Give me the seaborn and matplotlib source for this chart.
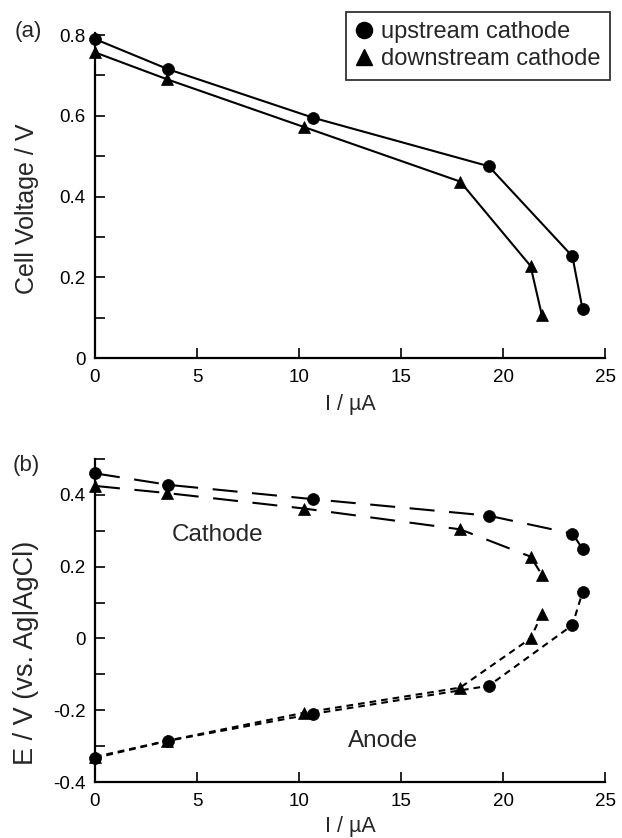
import matplotlib
matplotlib.use("Agg")
import matplotlib.pyplot as plt
from matplotlib.ticker import MultipleLocator, FuncFormatter
from matplotlib.lines import Line2D
import seaborn as sns
import pandas as pd

# ---- data ----
I_up = [0.0, 3.6, 10.7, 19.3, 23.4, 23.9]
I_down = [0.0, 3.55, 10.25, 17.9, 21.35, 21.9]

V_up = [0.79, 0.715, 0.595, 0.475, 0.252, 0.121]
V_down = [0.757, 0.69, 0.572, 0.437, 0.228, 0.107]

Ec_up = [0.46, 0.428, 0.388, 0.342, 0.292, 0.25]
Ec_down = [0.425, 0.405, 0.362, 0.304, 0.228, 0.178]
Ea_up = [-0.333, -0.285, -0.21, -0.132, 0.037, 0.129]
Ea_down = [-0.33, -0.285, -0.207, -0.137, 0.0, 0.067]

legend_labels = ["upstream cathode", "downstream cathode"]
x_ticks = [0, 5, 10, 15, 20, 25]

sns.set_style("ticks")
plt.rcParams["font.family"] = ["Liberation Sans", "DejaVu Sans"]
plt.rcParams["axes.unicode_minus"] = False

fig = plt.figure(figsize=(6.22, 8.38), dpi=100)
W, H = 622, 838

def ax_rect(l, r, t, b):
    return [l / W, 1 - b / H, (r - l) / W, (b - t) / H]

ax1 = fig.add_axes(ax_rect(95, 605, 33, 358))
ax2 = fig.add_axes(ax_rect(95, 605, 459, 782))

LW = 1.5
MS_C = 8.6
MS_T = 8.0
common = dict(color="k", lw=LW, markeredgecolor="k", markerfacecolor="k",
              markeredgewidth=0.5, clip_on=False, estimator=None)

# ---- panel (a) ----
d_up = pd.DataFrame({"I": I_up, "V": V_up})
d_dn = pd.DataFrame({"I": I_down, "V": V_down})
sns.lineplot(data=d_up, x="I", y="V", ax=ax1, marker="o", ms=MS_C, **common)
sns.lineplot(data=d_dn, x="I", y="V", ax=ax1, marker="^", ms=MS_T, **common)

# ---- panel (b) ----
long_dash = (0, (12, 7))
short_dash = (0, (3.2, 2.4))
sns.lineplot(data=pd.DataFrame({"I": I_up, "E": Ec_up}), x="I", y="E", ax=ax2,
             marker="o", ms=MS_C, linestyle=long_dash, **common)
sns.lineplot(data=pd.DataFrame({"I": I_down, "E": Ec_down}), x="I", y="E", ax=ax2,
             marker="^", ms=MS_T, linestyle=long_dash, **common)
sns.lineplot(data=pd.DataFrame({"I": I_up, "E": Ea_up}), x="I", y="E", ax=ax2,
             marker="o", ms=MS_C, linestyle=short_dash, **common)
sns.lineplot(data=pd.DataFrame({"I": I_down, "E": Ea_down}), x="I", y="E", ax=ax2,
             marker="^", ms=MS_T, linestyle=short_dash, **common)

ax2.text(6.03, 0.289, "Cathode", ha="center", va="center", fontsize=17.5)
ax2.text(14.14, -0.285, "Anode", ha="center", va="center", fontsize=17.5)

fmt = FuncFormatter(lambda v, p: "0" if abs(v) < 1e-9 else f"{v:.1f}")

for ax, ylo, yhi in [(ax1, 0.0, 0.805), (ax2, -0.4, 0.5)]:
    ax.set_xlim(0, 25)
    ax.set_ylim(ylo, yhi)
    ax.set_xticks(x_ticks)
    ax.yaxis.set_major_locator(MultipleLocator(0.2))
    ax.yaxis.set_minor_locator(MultipleLocator(0.1))
    ax.yaxis.set_major_formatter(fmt)
    ax.tick_params(axis="both", which="both", direction="in", length=7,
                   width=1.2, labelsize=13.5, color="k", labelcolor="k")
    ax.tick_params(axis="x", pad=8)
    ax.tick_params(axis="y", pad=7)
    sns.despine(ax=ax)
    for s in ("left", "bottom"):
        ax.spines[s].set_linewidth(1.6)
        ax.spines[s].set_color("k")
    ax.set_facecolor("white")

ax1.set_xlabel("I / µA", fontsize=15.5)
ax2.set_xlabel("I / µA", fontsize=15.5)
ax1.xaxis.set_label_coords(0.5, -0.112)
ax2.xaxis.set_label_coords(0.5, -0.105)
ax1.set_ylabel("Cell Voltage / V", fontsize=18)
ax2.set_ylabel("E / V (vs. Ag|AgCl)", fontsize=19.5)
ax1.yaxis.set_label_coords(-0.11, 0.46)
ax2.yaxis.set_label_coords(-0.11, 0.40)

fig.text(28 / W, 1 - 32 / H, "(a)", ha="center", va="center", fontsize=16)
fig.text(26 / W, 1 - 465 / H, "(b)", ha="center", va="center", fontsize=16)

handles = [
    Line2D([], [], color="k", marker="o", ms=MS_C + 3, linestyle="none"),
    Line2D([], [], color="k", marker="^", ms=MS_T + 3, linestyle="none"),
]
leg = ax1.legend(handles, legend_labels, loc="upper right",
                 bbox_to_anchor=(610 / W, 1 - 12 / H),
                 bbox_transform=fig.transFigure, fontsize=17,
                 frameon=True, fancybox=False, edgecolor="k",
                 handlelength=0.75, handletextpad=0.35, borderpad=0.4,
                 labelspacing=0.2, borderaxespad=0)
leg.get_frame().set_linewidth(1.3)

fig.savefig("out.png", dpi=100, facecolor="white")
